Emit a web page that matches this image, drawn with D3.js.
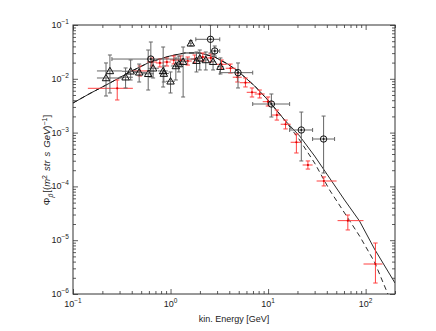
<!DOCTYPE html>
<html><head><meta charset="utf-8">
<script src="https://cdn.jsdelivr.net/npm/d3@7"></script>
<style>
body{margin:0;background:#fff}
svg{display:block}
text{font-family:"Liberation Sans",Arial,Helvetica,sans-serif;fill:#222}
</style>
</head><body>
<svg id="c" width="436" height="331"></svg>
<script>
// ---- model curves ----
const modelE      = [0.1,0.149,0.239,0.383,0.614,0.984,1.401,1.994,2.840,3.858,4.884,7.293,10.38,14.78,21.05,29.99,42.70,60.79,86.57,123.3,200];
const modelSolid  = [3.55e-3,5.33e-3,8.36e-3,1.34e-2,2.05e-2,2.65e-2,3.02e-2,3.02e-2,2.54e-2,1.88e-2,1.40e-2,7.35e-3,3.71e-3,1.71e-3,8.65e-4,3.67e-4,1.43e-4,5.59e-5,2.27e-5,6.86e-6,1.60e-6];
const modelDashed = [3.55e-3,5.33e-3,8.36e-3,1.34e-2,2.05e-2,2.65e-2,3.02e-2,3.02e-2,2.54e-2,1.88e-2,1.40e-2,7.35e-3,3.71e-3,1.71e-3,7.29e-4,2.72e-4,8.57e-5,3.21e-5,1.20e-5,3.94e-6,4.8e-7];

// ---- red crosses ----
const redE    = [0.284,0.485,0.644,0.777,0.917,1.08,1.27,1.50,1.77,2.14,2.59,3.33,4.11,4.85,5.86,6.84,8.20,9.97,12.3,15.1,19.5,25.6,37.3,65.7,126];
const redEmin = [0.142,0.392,0.572,0.707,0.834,0.984,1.160,1.368,1.613,1.948,2.352,2.908,3.681,4.342,5.120,6.037,7.292,8.805,10.88,13.46,17.03,22.60,31.44,51.56,95.1];
const redEmax = [0.411,0.614,0.724,0.854,1.007,1.188,1.401,1.652,1.948,2.352,2.840,3.770,4.660,5.366,6.634,7.643,9.228,11.14,13.46,17.03,22.07,28.60,50.36,95.1,148.9];
const redF    = [6.66e-3,1.40e-2,2.05e-2,1.97e-2,2.05e-2,2.24e-2,2.24e-2,2.14e-2,2.33e-2,2.54e-2,2.44e-2,1.86e-2,1.57e-2,1.07e-2,8.46e-3,5.61e-3,5.22e-3,3.75e-3,2.12e-3,1.43e-3,6.61e-4,2.50e-4,1.26e-4,2.31e-5,3.61e-6];
const redFlo  = [4.04e-3,1.127e-2,1.73e-2,1.66e-2,1.73e-2,1.89e-2,1.89e-2,1.80e-2,1.96e-2,2.14e-2,2.06e-2,1.52e-2,1.28e-2,8.72e-3,7.05e-3,4.59e-3,4.40e-3,3.12e-3,1.71e-3,1.17e-3,4.18e-4,2.10e-4,1.02e-4,1.55e-5,1.60e-6];
const redFhi  = [9.5e-3,1.73e-2,2.43e-2,2.34e-2,2.43e-2,2.66e-2,2.66e-2,2.54e-2,2.77e-2,3.02e-2,2.90e-2,2.236e-2,1.88e-2,1.28e-2,1.035e-2,6.75e-3,6.19e-3,4.59e-3,2.63e-3,1.71e-3,9.42e-4,2.97e-4,1.50e-4,2.94e-5,8.87e-6];

// ---- triangles ----
const triE    = [0.239,0.218,0.346,0.390,0.477,0.590,0.663,0.840,0.854,1.0,1.133,1.216,1.346,1.613,1.845,1.994,2.298,2.729,3.249];
const triEmin = [0.176,0.176,0.296,0.317,0.411,0.509,0.586,0.741,0.759,0.895,1.007,1.13,1.216,1.55,1.75,1.9,2.15,2.55,3.0];
const triEmax = [0.317,0.317,0.411,0.485,0.559,0.675,0.759,0.938,0.961,1.107,1.274,1.31,1.5,1.68,1.95,2.1,2.45,2.9,3.5];
const triF    = [1.40e-2,1.035e-2,1.07e-2,1.38e-2,1.32e-2,1.24e-2,1.57e-2,1.40e-2,1.25e-2,8.99e-3,1.73e-2,1.88e-2,2.08e-2,4.57e-2,2.17e-2,2.40e-2,2.24e-2,2.08e-2,1.68e-2];
const triFlo  = [5.45e-3,4.79e-3,6.75e-3,9.5e-3,8.72e-3,6.19e-3,1.035e-2,7.04e-3,8.72e-3,5.45e-3,9.5e-3,1.34e-2,4.59e-3,4.1e-2,1.34e-2,1.46e-2,1.46e-2,1.46e-2,1.23e-2];
const triFhi  = [2.77e-2,1.97e-2,1.59e-2,2.24e-2,1.88e-2,3.43e-2,2.24e-2,3.90e-2,1.73e-2,1.34e-2,2.44e-2,2.65e-2,3.90e-2,5.1e-2,3.15e-2,3.43e-2,3.15e-2,2.89e-2,2.44e-2];

// ---- circles ----
const cirE    = [0.628,2.567,2.840,4.918,10.81,21.91,37.07];
const cirEmin = [0.2507,1.815,2.585,3.195,6.955,16.63,28.60];
const cirEmax = [1.858,3.195,3.195,6.955,16.63,28.60,48.05];
const cirF    = [2.33e-2,5.42e-2,3.29e-2,1.30e-2,3.40e-3,1.118e-3,7.60e-4];
const cirFlo  = [1.08e-2,3.02e-2,2.65e-2,6.75e-3,1.95e-3,2.97e-4,1.775e-4];
const cirFhi  = [4.83e-2,0.1,4.07e-2,1.97e-2,5.22e-3,2.41e-3,2.03e-3];

// ---- axes ----
const xMajor = [0.1,1,10,100];
const xExp   = ["−1","0","1","2"];
const yMajor = [1e-6,1e-5,1e-4,1e-3,1e-2,1e-1];
const yExp   = ["−6","−5","−4","−3","−2","−1"];
const xLabel = "kin. Energy [GeV]";

const L=73,R=395,T=25,B=294;
const svg = d3.select("#c");
const x = d3.scaleLog().domain([0.1,200]).range([L,R]);
const y = d3.scaleLog().domain([1e-6,1e-1]).range([B,T]);

function minors(lo,hi){const a=[];for(let d=lo;d<hi*1.0001;d*=10){for(let m=2;m<=9;m++){const v=d*m;if(v<=hi*1.0001)a.push(v);}}return a;}
const xMinor = minors(0.1,200);
const yMinor = minors(1e-6,1e-1).filter(v=>v<0.1);

svg.append("defs").append("clipPath").attr("id","clip")
  .append("rect").attr("x",L).attr("y",T).attr("width",R-L).attr("height",B-T);

const plot = svg.append("g").attr("clip-path","url(#clip)");

// model lines
const line = d3.line().x((d,i)=>x(modelE[i])).y(d=>y(d));
plot.append("path").datum(modelSolid).attr("d",line).attr("fill","none").attr("stroke","#111").attr("stroke-width",0.9);
plot.append("path").datum(modelDashed).attr("d",line).attr("fill","none").attr("stroke","#111").attr("stroke-width",0.9).attr("stroke-dasharray","5,3.5");

function errBars(g,E,Emin,Emax,F,Flo,Fhi,color,capH,capV){
  const idx=d3.range(E.length);
  const gg=g.append("g").attr("stroke",color).attr("stroke-width",1).attr("fill","none");
  idx.forEach(i=>{
    const cx=x(E[i]),cy=y(F[i]);
    const x0=x(Emin[i]),x1=x(Emax[i]),y0=y(Flo[i]),y1=y(Fhi[i]);
    gg.append("line").attr("x1",x0).attr("x2",x1).attr("y1",cy).attr("y2",cy);
    gg.append("line").attr("x1",cx).attr("x2",cx).attr("y1",y0).attr("y2",y1);
    if(capV){[y0,y1].forEach(yy=>gg.append("line").attr("x1",cx-capV).attr("x2",cx+capV).attr("y1",yy).attr("y2",yy));}
    if(capH){[x0,x1].forEach(xx=>gg.append("line").attr("x1",xx).attr("x2",xx).attr("y1",cy-capH).attr("y2",cy+capH));}
  });
}

errBars(plot,redE,redEmin,redEmax,redF,redFlo,redFhi,"#ff4040",0,2.2);
plot.append("g").selectAll("circle").data(redF).join("circle")
  .attr("cx",(d,i)=>x(redE[i])).attr("cy",d=>y(d)).attr("r",1.1).attr("fill","#e00000");

errBars(plot,triE,triEmin,triEmax,triF,triFlo,triFhi,"#666",0,2);
errBars(plot,cirE,cirEmin,cirEmax,cirF,cirFlo,cirFhi,"#666",2,2);

const tri=d3.symbol().type(d3.symbolTriangle).size(24);
plot.append("g").selectAll("path").data(triF).join("path")
  .attr("d",tri).attr("transform",(d,i)=>`translate(${x(triE[i])},${y(d)+0.6})`)
  .attr("fill","none").attr("stroke","#111").attr("stroke-width",1);

const cg=plot.append("g");
cg.selectAll("circle.o").data(cirF).join("circle").attr("class","o")
  .attr("cx",(d,i)=>x(cirE[i])).attr("cy",d=>y(d)).attr("r",3.2)
  .attr("fill","none").attr("stroke","#111").attr("stroke-width",1);
cg.selectAll("circle.d").data(cirF).join("circle").attr("class","d")
  .attr("cx",(d,i)=>x(cirE[i])).attr("cy",d=>y(d)).attr("r",1).attr("fill","#111");

// axes ticks (inside, all four sides)
function axisG(gen,tx,ty){
  const g=svg.append("g").attr("transform",`translate(${tx},${ty})`).call(gen);
  g.select(".domain").remove();
  g.selectAll("text").remove();
  g.selectAll("line").attr("stroke","#333").attr("stroke-width",0.8);
  return g;
}
axisG(d3.axisBottom(x).tickValues(xMajor).tickSize(-5).tickFormat(""),0,B);
axisG(d3.axisBottom(x).tickValues(xMinor).tickSize(-3).tickFormat(""),0,B);
axisG(d3.axisTop(x).tickValues(xMajor).tickSize(-5).tickFormat(""),0,T);
axisG(d3.axisTop(x).tickValues(xMinor).tickSize(-3).tickFormat(""),0,T);
axisG(d3.axisLeft(y).tickValues(yMajor).tickSize(-5).tickFormat(""),L,0);
axisG(d3.axisLeft(y).tickValues(yMinor).tickSize(-3).tickFormat(""),L,0);
axisG(d3.axisRight(y).tickValues(yMajor).tickSize(-5).tickFormat(""),R,0);
axisG(d3.axisRight(y).tickValues(yMinor).tickSize(-3).tickFormat(""),R,0);

svg.append("rect").attr("x",L).attr("y",T).attr("width",R-L).attr("height",B-T)
  .attr("fill","none").attr("stroke","#333").attr("stroke-width",1);

// tick labels
xMajor.forEach((v,i)=>{
  const t=svg.append("text").attr("x",x(v)).attr("y",307).attr("text-anchor","middle").attr("font-size",9);
  t.append("tspan").text("10");
  t.append("tspan").attr("dy",-4).attr("font-size",6.5).text(xExp[i]);
});
yMajor.forEach((v,i)=>{
  const t=svg.append("text").attr("x",69).attr("y",y(v)+3).attr("text-anchor","end").attr("font-size",9);
  t.append("tspan").text("10");
  t.append("tspan").attr("dy",-4).attr("font-size",6.5).text(yExp[i]);
});

svg.append("text").attr("x",(L+R)/2).attr("y",322).attr("text-anchor","middle").attr("font-size",9).text(xLabel);

const yl=svg.append("text").attr("transform","translate(50,160) rotate(-90)").attr("text-anchor","middle").attr("font-size",9.5);
yl.append("tspan").text("Φ");
yl.append("tspan").attr("dy",2.5).attr("font-size",7).attr("font-style","italic").text("p̄");
yl.append("tspan").attr("dy",-2.5).attr("dx",1).text("[(");
yl.append("tspan").attr("font-style","italic").text("m");
yl.append("tspan").attr("dy",-3.5).attr("font-size",7).text("2");
yl.append("tspan").attr("dy",3.5).attr("dx",4).attr("font-style","italic").text("str");
yl.append("tspan").attr("dx",4).attr("font-style","italic").text("s");
yl.append("tspan").attr("dx",4).attr("font-style","italic").text("GeV");
yl.append("tspan").text(")");
yl.append("tspan").attr("dy",-3.5).attr("font-size",7).text("−1");
yl.append("tspan").attr("dy",3.5).text("]");
</script>
</body></html>
